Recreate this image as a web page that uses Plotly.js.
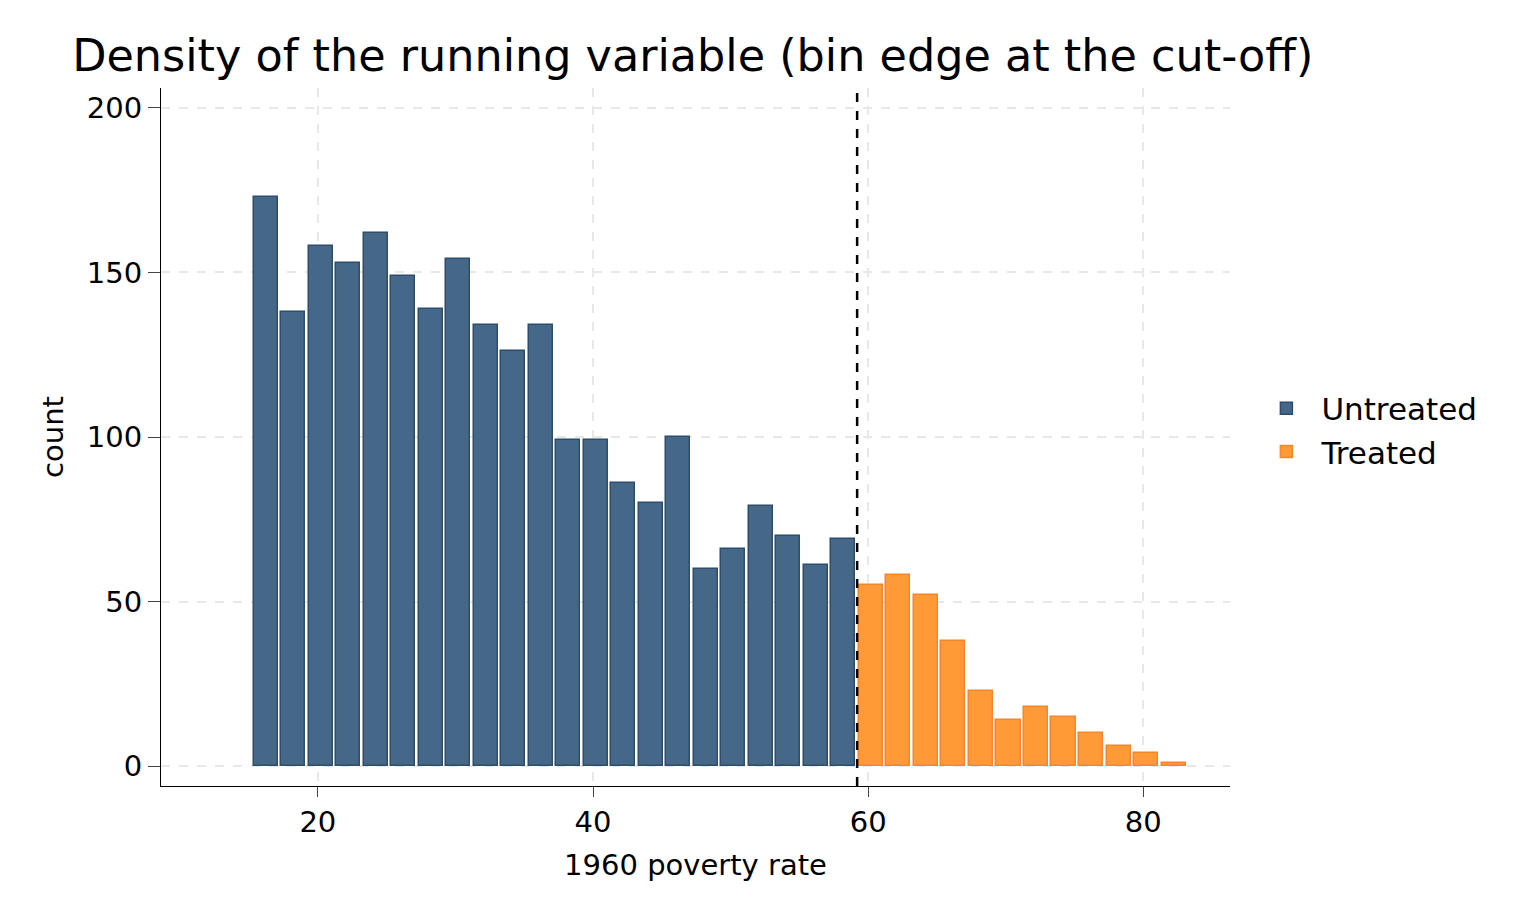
<!DOCTYPE html>
<html>
<head>
<meta charset="utf-8">
<script src="https://cdn.plot.ly/plotly-3.0.1.min.js"></script>
<style>html,body{margin:0;padding:0;background:#fff}#chart{width:1536px;height:921px}</style>
</head>
<body>
<div id="chart"></div>
<script>
const CUTOFF = 59.1984;
const BIN_WIDTH = 2;
const untreatedCounts = [173, 138, 158, 153, 162, 149, 139, 154, 134, 126, 134, 99, 99, 86, 80, 100, 60, 66, 79, 70, 61, 69];
const treatedCounts = [55, 58, 52, 38, 23, 14, 18, 15, 10, 6, 4, 1];

// bin centres, counted outward from the cut-off edge
const untreatedX = untreatedCounts.map((_, i) => CUTOFF - BIN_WIDTH * (untreatedCounts.length - i) + BIN_WIDTH / 2);
const treatedX = treatedCounts.map((_, i) => CUTOFF + BIN_WIDTH * i + BIN_WIDTH / 2);

const font = "DejaVu Sans, sans-serif";

Plotly.newPlot(
  "chart",
  [
    {
      type: "bar",
      name: "Untreated",
      x: untreatedX,
      y: untreatedCounts,
      width: 1.75,
      marker: { color: "#456888", line: { color: "#2f4c6b", width: 1.5 } },
    },
    {
      type: "bar",
      name: "Treated",
      x: treatedX,
      y: treatedCounts,
      width: 1.75,
      marker: { color: "#ff9a36", line: { color: "#f5862a", width: 1.5 } },
    },
  ],
  {
    width: 1536,
    height: 921,
    margin: { l: 161, r: 306, t: 88, b: 135 },
    paper_bgcolor: "#fff",
    plot_bgcolor: "#fff",
    font: { family: font, color: "#000", size: 29 },
    title: { text: "Density of the running variable (bin edge at the cut-off)", x: 0.047, xanchor: "left", y: 0.94, yanchor: "middle", font: { size: 44.5 } },
    bargap: 0,
    xaxis: {
      range: [8.6, 86.3],
      tickvals: [20, 40, 60, 80],
      ticks: "outside",
      ticklen: 10,
      showline: true,
      linecolor: "#000",
      gridcolor: "#e8e8e8",
      griddash: "dash",
      gridwidth: 2,
      zeroline: false,
      title: { text: "1960 poverty rate", font: { size: 29 }, standoff: 16 },
    },
    yaxis: {
      range: [-6, 206],
      tickvals: [0, 50, 100, 150, 200],
      ticks: "outside",
      ticklen: 12,
      showline: true,
      linecolor: "#000",
      gridcolor: "#e8e8e8",
      griddash: "dash",
      gridwidth: 2,
      zeroline: false,
      title: { text: "count", font: { size: 29 }, standoff: 14 },
    },
    shapes: [
      {
        type: "line", xref: "x", yref: "paper", x0: CUTOFF, x1: CUTOFF, y0: 0, y1: 1,
        line: { color: "#000", width: 2.5, dash: "dash" }, layer: "above",
      },
    ],
    legend: { x: 1.02, y: 0.51, yanchor: "middle", font: { size: 31 }, itemwidth: 60, traceorder: "normal" },
  },
  { displayModeBar: false }
);
</script>
</body>
</html>
